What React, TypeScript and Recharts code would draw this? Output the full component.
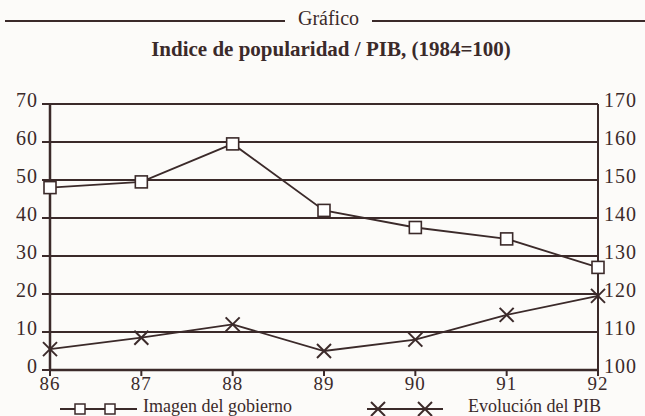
import React from "react";
import { LineChart, Line, XAxis, YAxis, CartesianGrid } from "recharts";

const years = ["86", "87", "88", "89", "90", "91", "92"];
const imagenGobierno = [48, 49.5, 59.5, 42, 37.5, 34.5, 27];
const evolucionPIB = [105.5, 108.5, 112, 105, 108, 114.5, 119.5];
const leftTicks = [0, 10, 20, 30, 40, 50, 60, 70];
const rightTicks = [100, 110, 120, 130, 140, 150, 160, 170];

const INK = "#3b2a2a";
const FONT = "'Liberation Serif', 'Times New Roman', serif";

const data = years.map((year, i) => ({
  year,
  imagen: imagenGobierno[i],
  pib: evolucionPIB[i],
}));

const SquareDot = ({ cx, cy }: any) => (
  <rect x={cx - 6} y={cy - 6} width={12} height={12} fill="#fff" stroke={INK} strokeWidth={1.6} />
);

const CrossDot = ({ cx, cy }: any) => (
  <g stroke={INK} strokeWidth={2}>
    <line x1={cx - 7} y1={cy - 7} x2={cx + 7} y2={cy + 7} />
    <line x1={cx - 7} y1={cy + 7} x2={cx + 7} y2={cy - 7} />
  </g>
);

const LeftTick = ({ x, y, payload }: any) => (
  <text x={x} y={y - 4} dy="0.35em" textAnchor="end" fontSize={20} letterSpacing={1} fill={INK} fontFamily={FONT}>
    {payload.value}
  </text>
);

const RightTick = ({ x, y, payload }: any) => (
  <text x={x} y={y - 4} dy="0.35em" textAnchor="start" fontSize={20} letterSpacing={1} fill={INK} fontFamily={FONT}>
    {payload.value}
  </text>
);

const BottomTick = ({ x, y, payload }: any) => (
  <text x={x} y={y} dy="0.71em" textAnchor="middle" fontSize={19} letterSpacing={1} fill={INK} fontFamily={FONT}>
    {payload.value}
  </text>
);

export default function App() {
  return (
    <div
      style={{
        position: "absolute",
        left: 0,
        top: 0,
        width: 645,
        height: 416,
        background: "#fcfbf9",
        fontFamily: FONT,
        color: INK,
        overflow: "hidden",
      }}
    >
      {/* header rule with "Gráfico" */}
      <div style={{ position: "absolute", left: 5, top: 20, width: 280, height: 2, background: INK }} />
      <div style={{ position: "absolute", left: 372, top: 20, width: 273, height: 2, background: INK }} />
      <div style={{ position: "absolute", left: 285, width: 87, top: 7, textAlign: "center", fontSize: 20 }}>
        Gráfico
      </div>
      <div
        style={{
          position: "absolute",
          left: 0,
          width: 662,
          top: 37,
          textAlign: "center",
          fontSize: 21,
          fontWeight: "bold",
        }}
      >
        Indice de popularidad / PIB, (1984=100)
      </div>

      <div style={{ position: "absolute", left: 0, top: 0 }}>
        <LineChart width={645} height={416} data={data} margin={{ top: 104, right: 5, bottom: 16, left: 10 }}>
          <CartesianGrid vertical={false} stroke={INK} strokeWidth={2} yAxisId="left" />
          <XAxis
            dataKey="year"
            scale="point"
            padding={{ left: 0, right: 0 }}
            height={30}
            tickSize={6}
            tickMargin={1}
            axisLine={{ stroke: INK, strokeWidth: 2.5 }}
            tickLine={{ stroke: INK, strokeWidth: 2 }}
            tick={<BottomTick />}
          />
          <YAxis
            yAxisId="left"
            domain={[0, 70]}
            ticks={leftTicks}
            width={40}
            tickSize={8}
            tickMargin={4}
            axisLine={{ stroke: INK, strokeWidth: 2.5 }}
            tickLine={{ stroke: INK, strokeWidth: 2 }}
            tick={<LeftTick />}
          />
          <YAxis
            yAxisId="right"
            orientation="right"
            domain={[100, 170]}
            ticks={rightTicks}
            width={42}
            tickSize={0}
            tickMargin={6}
            axisLine={{ stroke: INK, strokeWidth: 2 }}
            tickLine={false}
            tick={<RightTick />}
          />
          <Line
            yAxisId="left"
            dataKey="imagen"
            stroke={INK}
            strokeWidth={1.8}
            dot={(p: any) => <SquareDot key={`s${p.index}`} {...p} />}
            isAnimationActive={false}
          />
          <Line
            yAxisId="right"
            dataKey="pib"
            stroke={INK}
            strokeWidth={1.8}
            dot={(p: any) => <CrossDot key={`c${p.index}`} {...p} />}
            isAnimationActive={false}
          />
        </LineChart>
      </div>

      {/* legend */}
      <svg style={{ position: "absolute", left: 0, top: 376 }} width={645} height={40}>
        <line x1={60} y1={33} x2={137} y2={33} stroke={INK} strokeWidth={2} />
        <rect x={75} y={28} width={10} height={10} fill="#fff" stroke={INK} strokeWidth={1.5} />
        <rect x={105} y={28} width={10} height={10} fill="#fff" stroke={INK} strokeWidth={1.5} />
        <text x={143} y={36} fontSize={18} fill={INK} fontFamily={FONT}>
          Imagen del gobierno
        </text>
        <line x1={367} y1={33} x2={443} y2={33} stroke={INK} strokeWidth={2} />
        <g stroke={INK} strokeWidth={2}>
          <line x1={371} y1={26} x2={385} y2={40} />
          <line x1={371} y1={40} x2={385} y2={26} />
          <line x1={418} y1={26} x2={432} y2={40} />
          <line x1={418} y1={40} x2={432} y2={26} />
        </g>
        <text x={468} y={36} fontSize={18} fill={INK} fontFamily={FONT}>
          Evolución del PIB
        </text>
      </svg>
    </div>
  );
}
